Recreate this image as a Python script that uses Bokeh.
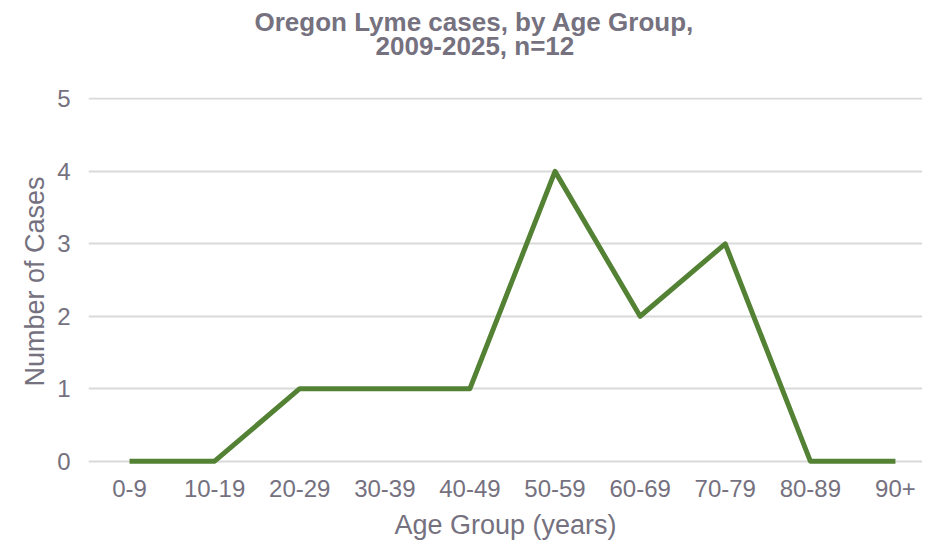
from bokeh.plotting import figure
from bokeh.models import Range1d, FixedTicker, Title
from bokeh.embed import file_html
from bokeh.resources import INLINE

age_groups = ["0-9", "10-19", "20-29", "30-39", "40-49", "50-59", "60-69", "70-79", "80-89", "90+"]
cases = [0, 0, 1, 1, 1, 4, 2, 3, 0, 0]
title_lines = ["Oregon Lyme cases, by Age Group,", "2009-2025, n=12"]

TEXT = "#75717f"
FONT = "Liberation Sans"

xs = list(range(len(age_groups)))

p = figure(output_backend="svg", toolbar_location=None,
           frame_width=834, frame_height=368,
           min_border_left=88, min_border_right=0, min_border_top=97, min_border_bottom=64,
           x_range=Range1d(-0.482, 9.318), y_range=Range1d(-0.06, 5.02))

p.line(xs, cases, line_color="#548235", line_width=5, line_join="round", line_cap="butt")

# spacer closest to the plot, then second line, then first line
p.add_layout(Title(text=" ", align="left", standoff=34, text_font_size="1px"), "above")
p.add_layout(Title(text=title_lines[1], align="left", offset=287, standoff=0,
                   text_font=FONT, text_font_size="26px", text_font_style="bold",
                   text_color=TEXT), "above")
p.add_layout(Title(text=title_lines[0], align="left", offset=166, standoff=-16,
                   text_font=FONT, text_font_size="26px", text_font_style="bold",
                   text_color=TEXT), "above")

p.outline_line_color = None
p.background_fill_color = "white"
p.border_fill_color = "white"

p.xaxis.ticker = FixedTicker(ticks=xs)
p.xaxis.major_label_overrides = {i: lab for i, lab in enumerate(age_groups)}
p.yaxis.ticker = FixedTicker(ticks=[0, 1, 2, 3, 4, 5])

for ax in (p.xaxis[0], p.yaxis[0]):
    ax.axis_line_color = None
    ax.major_tick_line_color = None
    ax.minor_tick_line_color = None
    ax.major_label_text_font = FONT
    ax.major_label_text_font_size = "24px"
    ax.major_label_text_color = TEXT
    ax.axis_label_text_font = FONT
    ax.axis_label_text_font_size = "27px"
    ax.axis_label_text_color = TEXT
    ax.axis_label_text_font_style = "normal"

p.xaxis.axis_label = "Age Group (years)"
p.yaxis.axis_label = "Number of Cases"
p.xaxis.major_label_standoff = 8
p.yaxis.major_label_standoff = 12
p.xaxis.axis_label_standoff = 10
p.yaxis.axis_label_standoff = 4

p.xgrid.grid_line_color = None
p.ygrid.grid_line_color = "#d9d9d9"
p.ygrid.grid_line_width = 2
p.ygrid.ticker = FixedTicker(ticks=[0, 1, 2, 3, 4, 5])

open("out.html", "w").write(file_html(p, INLINE))
